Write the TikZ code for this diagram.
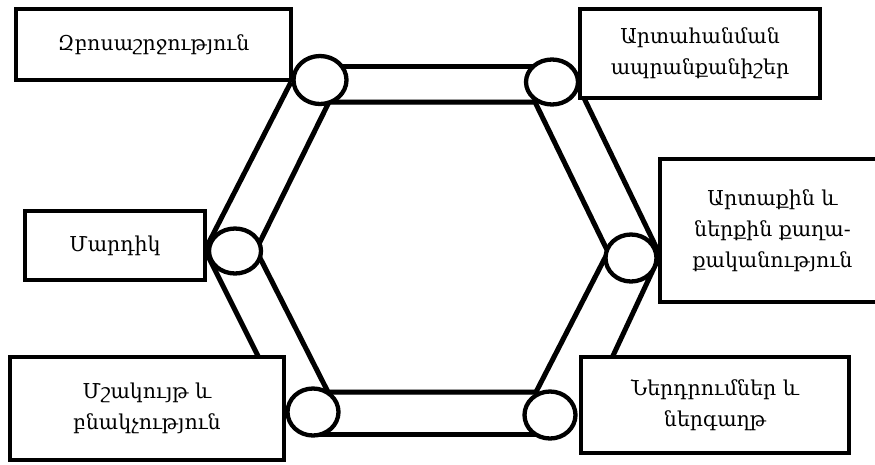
\documentclass[tikz,border=0pt]{standalone}
\usepackage{fontspec}
\setmainfont{DejaVu Serif}
\usetikzlibrary{shapes.geometric}
\begin{document}
\begin{tikzpicture}[x=1pt,y=-1pt,
  boxnode/.style={draw=black,line width=4.5pt,fill=white,rectangle,inner sep=0pt,align=center,
     font=\fontsize{20.5}{31}\selectfont},
  ring/.style={draw=black,line width=4.3pt,fill=white,ellipse,inner sep=0pt},
  band/.style={draw=black,line width=5pt,line join=round},
  bandshadow/.style={draw=black!30,line width=5pt,opacity=0.5}]
\useasboundingbox (0,0) rectangle (875,464);
% outer band points
\coordinate (oTa) at (322,66);
\coordinate (oTb) at (548,66);
\coordinate (oRa) at (583,96);
\coordinate (oR) at (660,255);
\coordinate (oRb) at (597,390);
\coordinate (oBa) at (553,434);
\coordinate (oBb) at (312,434);
\coordinate (oLa) at (280,400);
\coordinate (oL) at (205,250);
\coordinate (oLb) at (291,82);
% inner hexagon
\coordinate (iTL) at (329,102);
\coordinate (iTR) at (535,102);
\coordinate (iR) at (608,252);
\coordinate (iBR) at (536,392);
\coordinate (iBL) at (328,392);
\coordinate (iL) at (256,250);
% shadows
\begin{scope}[shift={(1.5,3)}]
\draw[bandshadow] (oTa) -- (oTb);
\draw[bandshadow] (oBb) -- (oBa);
\draw[bandshadow] (iTL) -- (iTR) -- (iR) -- (iBR) -- (iBL) -- (iL) -- cycle;
\end{scope}
% band lines
\draw[band] (oTa) -- (oTb);
\draw[band] (oRa) -- (oR) -- (oRb);
\draw[band] (oBa) -- (oBb);
\draw[band] (oLa) -- (oL) -- (oLb);
\draw[band] (iTL) -- (iTR) -- (iR) -- (iBR) -- (iBL) -- (iL) -- cycle;
% rings
\node[ring,minimum width=53pt,minimum height=48pt] (cTL) at (320,80) {};
\node[ring,minimum width=52pt,minimum height=45pt] (cTR) at (552,82) {};
\node[ring,minimum width=52pt,minimum height=45pt] (cL) at (235,251) {};
\node[ring,minimum width=51pt,minimum height=47pt] (cR) at (631,258) {};
\node[ring,minimum width=51pt,minimum height=47pt] (cBL) at (313,412) {};
\node[ring,minimum width=51pt,minimum height=47pt] (cBR) at (550,415) {};
% boxes
\node[boxnode,minimum width=275pt,minimum height=71pt] (b1) at (153.5,44.5) {Զբոսաշրջություն};
\node[boxnode,minimum width=240pt,minimum height=89pt] (b2) at (700,53.5) {Արտահանման\\ապրանքանիշեր};
\node[boxnode,minimum width=180pt,minimum height=69pt] (b3) at (115,245.5) {Մարդիկ};
\node[boxnode,minimum width=225pt,minimum height=143pt] (b4) at (772.5,230.5) {Արտաքին և\\ներքին քաղա-\\քականություն};
\node[boxnode,minimum width=274pt,minimum height=103pt] (b5) at (147,408.5) {Մշակույթ և\\բնակչություն};
\node[boxnode,minimum width=268pt,minimum height=96pt] (b6) at (715,405) {Ներդրումներ և\\ներգաղթ};
\end{tikzpicture}
\end{document}
